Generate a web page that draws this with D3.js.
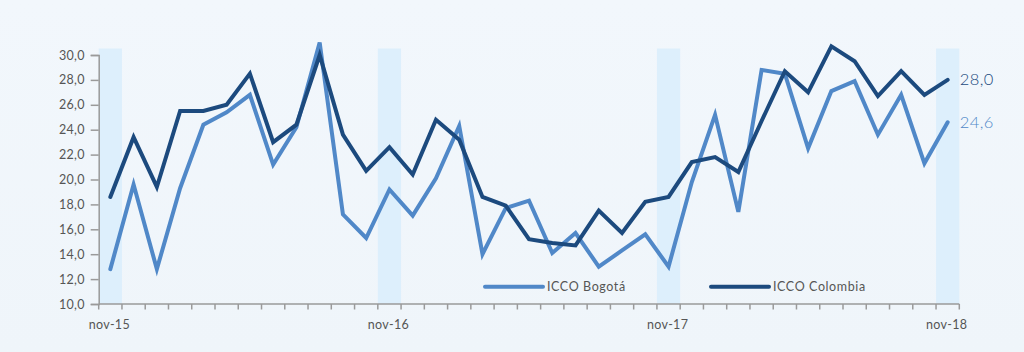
<!DOCTYPE html>
<html>
<head>
<meta charset="utf-8">
<script src="https://cdn.jsdelivr.net/npm/d3@7/dist/d3.min.js"></script>
<style>
  html, body { margin: 0; padding: 0; background: #f1f6fb; }
  svg { display: block; font-family: "Lato", "Open Sans", sans-serif; }
</style>
</head>
<body>
<svg id="chart" width="1024" height="352"></svg>
<script>
const months = ["nov-15","dic-15","ene-16","feb-16","mar-16","abr-16","may-16","jun-16","jul-16","ago-16","sep-16","oct-16",
  "nov-16","dic-16","ene-17","feb-17","mar-17","abr-17","may-17","jun-17","jul-17","ago-17","sep-17","oct-17",
  "nov-17","dic-17","ene-18","feb-18","mar-18","abr-18","may-18","jun-18","jul-18","ago-18","sep-18","oct-18","nov-18"];
const bogota = [12.8,19.6,12.8,19.3,24.4,25.4,26.8,21.2,24.2,31.0,17.2,15.3,
  19.2,17.1,20.1,24.3,14.0,17.7,18.3,14.1,15.7,13.0,14.3,15.6,
  13.0,19.8,25.2,17.4,28.8,28.5,22.5,27.1,27.9,23.6,26.8,21.3,24.6];
const colombia = [18.6,23.4,19.4,25.5,25.5,26.0,28.5,23.0,24.4,30.0,23.6,20.7,
  22.6,20.4,24.8,23.2,18.6,17.9,15.2,14.9,14.7,17.5,15.7,18.2,
  18.6,21.4,21.8,20.6,24.7,28.7,27.0,30.7,29.5,26.7,28.7,26.8,28.0];
const yTicks = [10,12,14,16,18,20,22,24,26,28,30];
const xLabels = ["nov-15","nov-16","nov-17","nov-18"];
const seriesNames = ["ICCO Bogotá","ICCO Colombia"];
const seriesColors = ["#5088c8","#1c4a7e"];

(function draw() {
const svg = d3.select("#chart");
const mLeft = 98.7, mRight = 959.3, mTop = 55, mBottom = 304;

const defs = svg.append("defs");
const grad = defs.append("linearGradient").attr("id","bg").attr("x1",0).attr("y1",0).attr("x2",0).attr("y2",1);
grad.append("stop").attr("offset","0%").attr("stop-color","#f2f7fc");
grad.append("stop").attr("offset","100%").attr("stop-color","#eff5fa");
svg.append("rect").attr("width",1024).attr("height",352).attr("fill","url(#bg)");

const x = d3.scaleBand().domain(months).range([mLeft, mRight]).padding(0);
const y = d3.scaleLinear().domain([10, 30]).range([mBottom, mTop]);

// shaded november bands
svg.append("g").selectAll("rect")
  .data(months.filter(m => m.startsWith("nov")))
  .join("rect")
  .attr("x", d => x(d))
  .attr("width", x.bandwidth())
  .attr("y", 48.5)
  .attr("height", mBottom - 48.5)
  .attr("fill", "#ddeffc");

// y axis
const yAxis = svg.append("g").attr("transform", `translate(${mLeft},0)`)
  .call(d3.axisLeft(y).tickValues(yTicks).tickSize(8).tickPadding(6)
    .tickFormat(d => d3.format(".1f")(d).replace(".", ",")));
yAxis.select(".domain").attr("stroke", "#9a9a9a").attr("stroke-width", 1.5);
yAxis.selectAll(".tick line").attr("stroke", "#9a9a9a").attr("stroke-width", 1.5);
yAxis.selectAll(".tick text").attr("fill", "#555").attr("font-size", 12.5)
  .attr("letter-spacing", "0.3px").attr("font-family", "Lato");

// x axis: ticks at band boundaries
const boundaries = months.map(m => x(m)).concat([mRight]);
const xg = svg.append("g");
xg.append("line").attr("x1", mLeft).attr("x2", mRight).attr("y1", mBottom).attr("y2", mBottom)
  .attr("stroke", "#9a9a9a").attr("stroke-width", 1.5);
xg.selectAll("line.t").data(boundaries).join("line").attr("class","t")
  .attr("x1", d => d).attr("x2", d => d).attr("y1", mBottom).attr("y2", mBottom + 5.5)
  .attr("stroke", "#9a9a9a").attr("stroke-width", 1.5);
xg.selectAll("text").data(xLabels).join("text")
  .attr("x", d => x(d) + x.bandwidth() / 2 - 1)
  .attr("y", 329)
  .attr("text-anchor", "middle")
  .attr("fill", "#555").attr("font-size", 12.5).attr("letter-spacing", "0.3px")
  .text(d => d);

// lines
const line = d3.line().x((d, i) => x(months[i]) + x.bandwidth() / 2).y(d => y(d));
[bogota, colombia].forEach((s, k) => {
  svg.append("path").datum(s)
    .attr("d", line)
    .attr("fill", "none")
    .attr("stroke", seriesColors[k])
    .attr("stroke-width", 4)
    .attr("stroke-linejoin", "miter")
    .attr("stroke-miterlimit", 4)
    .attr("stroke-linecap", "round");
});

// end labels
[colombia, bogota].forEach((s, k) => {
  const v = s[s.length - 1];
  svg.append("text")
    .attr("x", mRight + 0.5)
    .attr("y", y(v) + 5.5)
    .attr("fill", k === 0 ? seriesColors[1] : seriesColors[0])
    .attr("font-size", 16.5)
    .attr("font-weight", 300)
    .attr("letter-spacing", "0.4px")
    .text(d3.format(".1f")(v).replace(".", ","));
});

// legend
const legendPos = [485, 711];
seriesNames.forEach((n, k) => {
  const g = svg.append("g");
  g.append("line").attr("x1", legendPos[k]).attr("x2", legendPos[k] + 58)
    .attr("y1", 286.7).attr("y2", 286.7)
    .attr("stroke", seriesColors[k]).attr("stroke-width", 4).attr("stroke-linecap", "round");
  g.append("text").attr("x", legendPos[k] + 62).attr("y", 291)
    .attr("fill", "#555").attr("font-size", 12.5).attr("letter-spacing", "0.6px").text(n);
});
})();
</script>
</body>
</html>
